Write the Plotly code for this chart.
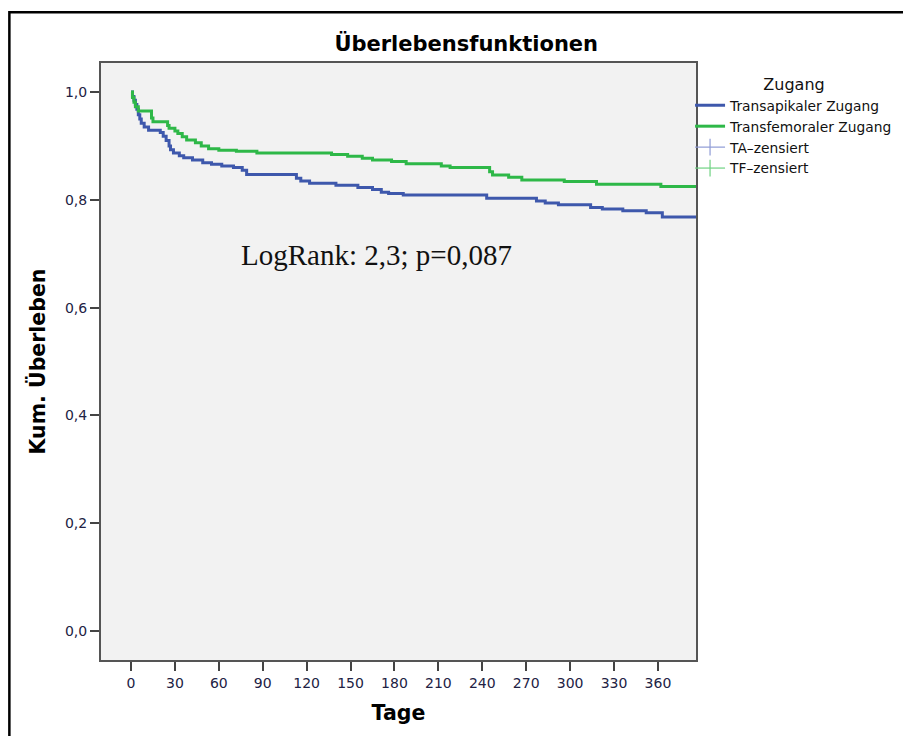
import plotly.graph_objects as go

# ---- data ----
ta_days = [0, 1, 2, 3, 4, 5, 6, 7, 9, 12, 20, 22, 24, 26, 27, 29, 33, 36, 42, 49, 55, 62, 70, 76, 79,
           113, 116, 122, 140, 155, 165, 171, 176, 186, 243, 277, 283, 292, 314, 322, 336, 352, 363, 386]
ta_surv = [1.0, 0.992, 0.985, 0.977, 0.968, 0.958, 0.950, 0.942, 0.935, 0.929, 0.925, 0.918, 0.910,
           0.900, 0.893, 0.887, 0.882, 0.878, 0.874, 0.869, 0.866, 0.863, 0.860, 0.855, 0.847,
           0.840, 0.835, 0.831, 0.827, 0.823, 0.819, 0.814, 0.812, 0.809, 0.803, 0.798, 0.794,
           0.791, 0.786, 0.783, 0.780, 0.776, 0.768, 0.768]

tf_days = [0, 1, 2, 3, 5, 14, 15, 25, 26, 30, 32, 35, 38, 44, 48, 53, 60, 72, 86, 137, 148, 158,
           165, 178, 188, 212, 218, 245, 247, 258, 267, 296, 318, 362, 386]
tf_surv = [1.0, 0.990, 0.981, 0.973, 0.965, 0.952, 0.945, 0.938, 0.933, 0.928, 0.923, 0.917, 0.911,
           0.906, 0.900, 0.895, 0.892, 0.890, 0.887, 0.884, 0.881, 0.877, 0.874, 0.871, 0.867,
           0.863, 0.860, 0.852, 0.846, 0.842, 0.837, 0.834, 0.829, 0.825, 0.825]

x_ticks = [0, 30, 60, 90, 120, 150, 180, 210, 240, 270, 300, 330, 360]
y_ticks = [0.0, 0.2, 0.4, 0.6, 0.8, 1.0]
y_ticktext = ["0,0", "0,2", "0,4", "0,6", "0,8", "1,0"]

series_names = ["Transapikaler Zugang", "Transfemoraler Zugang", "TA\u2013zensiert", "TF\u2013zensiert"]
blue = "#3E58AC"
green = "#2EB848"
blue_light = "#8E9BD6"
green_light = "#6FD282"

UI_FONT = "DejaVu Sans"

fig = go.Figure()
fig.add_trace(go.Scatter(x=ta_days, y=ta_surv, mode="lines", line=dict(color=blue, width=3, shape="hv"),
                         name=series_names[0]))
fig.add_trace(go.Scatter(x=tf_days, y=tf_surv, mode="lines", line=dict(color=green, width=3, shape="hv"),
                         name=series_names[1]))
fig.add_trace(go.Scatter(x=[None], y=[None], mode="lines+markers", name=series_names[2],
                         line=dict(color=blue_light, width=1.2),
                         marker=dict(symbol="line-ns-open", size=12, line=dict(color=blue_light, width=1.2))))
fig.add_trace(go.Scatter(x=[None], y=[None], mode="lines+markers", name=series_names[3],
                         line=dict(color=green_light, width=1.2),
                         marker=dict(symbol="line-ns-open", size=12, line=dict(color=green_light, width=1.2))))

fig.add_annotation(x=167.7, y=0.698, xref="x", yref="y", text="LogRank: 2,3; p=0,087",
                   showarrow=False, xanchor="center", yanchor="middle",
                   font=dict(family="Liberation Serif", size=29, color="#111111"))

# outer frame
fig.add_shape(type="rect", xref="paper", yref="paper", x0=-0.154, x1=1.40, y0=-0.16, y1=1.085,
              line=dict(color="#000000", width=2.5), fillcolor="rgba(0,0,0,0)", layer="above")

fig.update_layout(
    width=911, height=736,
    margin=dict(l=93, r=223, t=55, b=84),
    paper_bgcolor="white",
    plot_bgcolor="#F2F2F2",
    font=dict(family=UI_FONT, size=14, color="#222244"),
    title=dict(text="<b>Überlebensfunktionen</b>", x=0.503, xref="container", xanchor="center",
               y=1 - 36 / 736, yanchor="middle", yref="container",
               font=dict(family=UI_FONT, size=21, color="#000000")),
    showlegend=True,
    legend=dict(x=0.99, xanchor="left", y=0.99, yanchor="top", bgcolor="rgba(0,0,0,0)",
                itemwidth=30, tracegroupgap=0,
                font=dict(family=UI_FONT, size=13.8, color="#111111"),
                title=dict(text="Zugang", side="top center",
                           font=dict(family=UI_FONT, size=16, color="#111111"))),
    xaxis=dict(range=[-20.5, 386], tickvals=x_ticks, ticks="outside", ticklen=9, tickwidth=2,
               tickcolor="#444444", showgrid=False, zeroline=False, showline=True, mirror=True,
               linecolor="#555555", linewidth=2,
               tickfont=dict(family=UI_FONT, size=14, color="#222244"),
               title=dict(text="<b>Tage</b>", standoff=16,
                          font=dict(family=UI_FONT, size=20.5, color="#000000"))),
    yaxis=dict(range=[-0.054, 1.054], tickvals=y_ticks, ticktext=y_ticktext, ticks="outside",
               ticklen=9, tickwidth=2, tickcolor="#444444", showgrid=False, zeroline=False,
               showline=True, mirror=True, linecolor="#555555", linewidth=2,
               tickfont=dict(family=UI_FONT, size=14, color="#222244"),
               title=dict(text="<b>Kum. Überleben</b>", standoff=14,
                          font=dict(family=UI_FONT, size=20.5, color="#000000"))),
)

fig.write_html("out.html")
